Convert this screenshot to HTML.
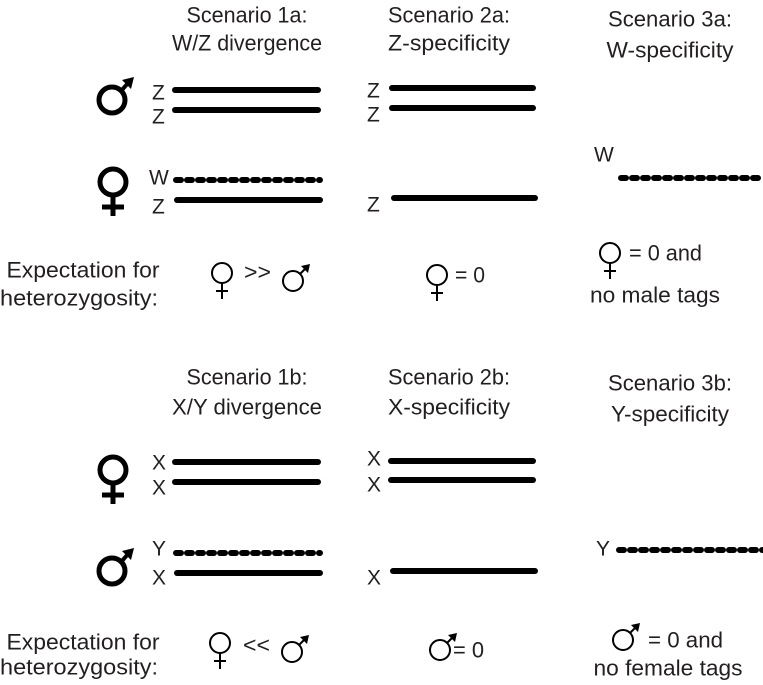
<!DOCTYPE html>
<html><head><meta charset="utf-8"><style>
html,body{margin:0;padding:0;background:#fff;}
svg{display:block;}
text{font-family:"Liberation Sans",sans-serif;fill:#231f20;font-size:22px;}
.l{font-family:"Liberation Sans",sans-serif;font-size:21px;}
</style></head><body>
<svg width="763" height="685" viewBox="0 0 763 685" xmlns="http://www.w3.org/2000/svg">
<defs>
<g id="mb"><circle cx="0" cy="0" r="13" fill="none" stroke="#000" stroke-width="5"/><line x1="9" y1="-9" x2="17" y2="-18" stroke="#000" stroke-width="4"/><polygon points="22,-23 10,-20 19,-11" fill="#000"/></g>
<g id="fb"><circle cx="0" cy="0" r="13" fill="none" stroke="#000" stroke-width="5"/><line x1="0" y1="13" x2="0" y2="34" stroke="#000" stroke-width="5"/><line x1="-11" y1="25" x2="11" y2="25" stroke="#000" stroke-width="5"/></g>
<g id="ms"><circle cx="0" cy="0" r="10" fill="none" stroke="#000" stroke-width="2"/><line x1="7" y1="-7" x2="14" y2="-14" stroke="#000" stroke-width="2"/><polygon points="17,-17 8,-15 15,-8" fill="#000"/></g>
<g id="fs"><circle cx="0" cy="0" r="10" fill="none" stroke="#000" stroke-width="2"/><line x1="0" y1="10" x2="0" y2="26" stroke="#000" stroke-width="2"/><line x1="-6" y1="18" x2="6" y2="18" stroke="#000" stroke-width="2"/></g>
</defs>
<g stroke="#000" stroke-width="6" stroke-linecap="round" fill="none">
<line x1="175" y1="90" x2="318" y2="90"/><line x1="175" y1="110" x2="318" y2="110"/>
<line x1="177" y1="200" x2="320" y2="200"/>
<line x1="176" y1="180" x2="320" y2="180" stroke-dasharray="5 6"/>
<line x1="392" y1="88" x2="533" y2="88"/><line x1="392" y1="108" x2="533" y2="108"/>
<line x1="394" y1="198" x2="535" y2="198"/>
<line x1="621" y1="178" x2="763" y2="178" stroke-dasharray="5 6"/>
<line x1="175" y1="462" x2="318" y2="462"/><line x1="175" y1="482" x2="318" y2="482"/>
<line x1="177" y1="573" x2="320" y2="573"/>
<line x1="176" y1="553" x2="320" y2="553" stroke-dasharray="5 6"/>
<line x1="391" y1="461" x2="533" y2="461"/><line x1="391" y1="480" x2="533" y2="480"/>
<line x1="393" y1="571" x2="535" y2="571"/>
<line x1="619" y1="550" x2="763" y2="550" stroke-dasharray="5 6"/>
</g>
<use href="#mb" x="112" y="100"/>
<use href="#fb" x="113" y="182"/>
<use href="#fb" x="113" y="470"/>
<use href="#mb" x="112" y="571"/>
<use href="#fs" x="222" y="273"/>
<use href="#ms" x="293" y="281"/>
<use href="#fs" x="437" y="275"/>
<use href="#fs" x="610" y="253"/>
<use href="#fs" x="220" y="643"/>
<use href="#ms" x="292" y="652"/>
<use href="#ms" x="440" y="650"/>
<use href="#ms" x="623" y="640"/>
<g dominant-baseline="central">
<text class="l" x="152" y="93">Z</text><text class="l" x="152" y="117">Z</text>
<text class="l" x="149" y="178">W</text><text class="l" x="152" y="207">Z</text>
<text class="l" x="367" y="91">Z</text><text class="l" x="367" y="115">Z</text>
<text class="l" x="367" y="205">Z</text>
<text class="l" x="594" y="155">W</text>
<text class="l" x="152" y="463">X</text><text class="l" x="152" y="488">X</text>
<text class="l" x="152" y="549">Y</text><text class="l" x="152" y="578">X</text>
<text class="l" x="367" y="459">X</text><text class="l" x="367" y="485">X</text>
<text class="l" x="367" y="578">X</text>
<text class="l" x="596" y="549">Y</text>
</g>
<g text-anchor="middle" dominant-baseline="central">
<text x="247" y="15" textLength="121" lengthAdjust="spacingAndGlyphs">Scenario 1a:</text>
<text x="247" y="43" textLength="150" lengthAdjust="spacingAndGlyphs">W/Z divergence</text>
<text x="449" y="15" textLength="122" lengthAdjust="spacingAndGlyphs">Scenario 2a:</text>
<text x="449" y="43" textLength="122" lengthAdjust="spacingAndGlyphs">Z-specificity</text>
<text x="670" y="19" textLength="124" lengthAdjust="spacingAndGlyphs">Scenario 3a:</text>
<text x="670" y="50" textLength="127" lengthAdjust="spacingAndGlyphs">W-specificity</text>
<text x="247" y="377" textLength="121" lengthAdjust="spacingAndGlyphs">Scenario 1b:</text>
<text x="247" y="407" textLength="150" lengthAdjust="spacingAndGlyphs">X/Y divergence</text>
<text x="449" y="377" textLength="122" lengthAdjust="spacingAndGlyphs">Scenario 2b:</text>
<text x="449" y="407" textLength="122" lengthAdjust="spacingAndGlyphs">X-specificity</text>
<text x="670" y="383" textLength="124" lengthAdjust="spacingAndGlyphs">Scenario 3b:</text>
<text x="670" y="414" textLength="118" lengthAdjust="spacingAndGlyphs">Y-specificity</text>
<text x="83" y="270" textLength="153" lengthAdjust="spacingAndGlyphs">Expectation for</text>
<text x="79" y="298" textLength="158" lengthAdjust="spacingAndGlyphs">heterozygosity:</text>
<text x="83" y="642" textLength="153" lengthAdjust="spacingAndGlyphs">Expectation for</text>
<text x="79" y="667" textLength="158" lengthAdjust="spacingAndGlyphs">heterozygosity:</text>
<text x="655" y="295" textLength="130" lengthAdjust="spacingAndGlyphs">no male tags</text>
<text x="668" y="668" textLength="149" lengthAdjust="spacingAndGlyphs">no female tags</text>
</g>
<g dominant-baseline="central">
<text x="244" y="272" textLength="27" lengthAdjust="spacingAndGlyphs">&gt;&gt;</text>
<text x="455" y="275" textLength="30" lengthAdjust="spacingAndGlyphs">= 0</text>
<text x="629" y="253" textLength="73" lengthAdjust="spacingAndGlyphs">= 0 and</text>
<text x="243" y="645" textLength="27" lengthAdjust="spacingAndGlyphs">&lt;&lt;</text>
<text x="453" y="650" textLength="31" lengthAdjust="spacingAndGlyphs">= 0</text>
<text x="648" y="640" textLength="75" lengthAdjust="spacingAndGlyphs">= 0 and</text>
</g>
</svg>
</body></html>
